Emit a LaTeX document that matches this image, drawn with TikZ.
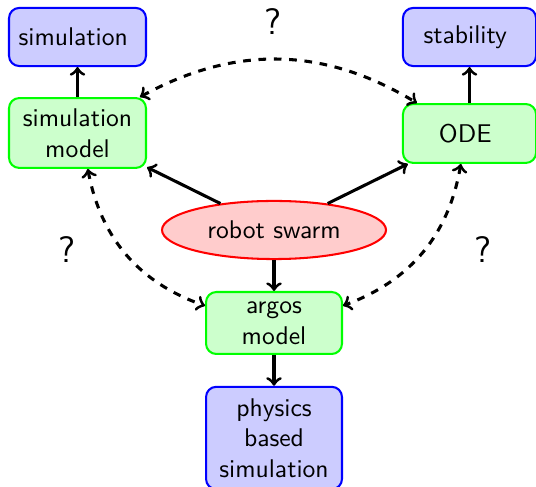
\documentclass[tikz,border=0pt]{standalone}
\usetikzlibrary{shapes.geometric,arrows}
\begin{document}
\begin{tikzpicture}[x=0.390625pt,y=-0.390625pt,
  font=\sffamily,
  bluebox/.style={draw=blue,fill=blue!20,thick,rounded corners=4pt,align=center,inner sep=2pt},
  greenbox/.style={draw=green,fill=green!20,thick,rounded corners=4pt,align=center,inner sep=2pt},
  redell/.style={ellipse,draw=red,fill=red!20,thick,inner sep=0pt},
  arr/.style={->,very thick},
  darr/.style={<->,very thick,dashed},
  qmark/.style={font=\sffamily\Large,inner sep=0pt}]
\useasboundingbox (0,0) rectangle (536,487);
\node[bluebox,minimum width=53.5pt,minimum height=22.7pt] (sim) at (77.5,37) {simulation\ };
\node[greenbox,minimum width=53.5pt,minimum height=27.3pt] (sm) at (77.5,133) {simulation\ \\model\ };
\node[bluebox,minimum width=52pt,minimum height=22.7pt] (stab) at (469.5,37) {stability\ };
\node[greenbox,minimum width=52pt,minimum height=23pt] (ode) at (469.5,133.5) {ODE\ };
\node[redell,minimum width=87.5pt,minimum height=22.7pt] (swarm) at (274,230) {robot swarm};
\node[greenbox,minimum width=53.1pt,minimum height=24.2pt] (argos) at (274,323) {argos\ \\model\ };
\node[bluebox,minimum width=53.1pt,minimum height=40pt] (phys) at (274,438) {physics\ \\based\ \\simulation\ };
\node[qmark] (q1) at (273,22) {?};
\node[qmark] (q2) at (67,250) {?};
\node[qmark] (q3) at (483,250) {?};
\draw[arr] (sm) -- (sim);
\draw[arr] (ode) -- (stab);
\draw[arr] (swarm) -- (sm);
\draw[arr] (swarm) -- (ode);
\draw[arr] (swarm) -- (argos);
\draw[arr] (argos) -- (phys);
\draw[darr] (sm) to[bend left] (ode);
\draw[darr] (sm) to[bend right] (argos);
\draw[darr] (ode) to[bend left] (argos);
\end{tikzpicture}
\end{document}
